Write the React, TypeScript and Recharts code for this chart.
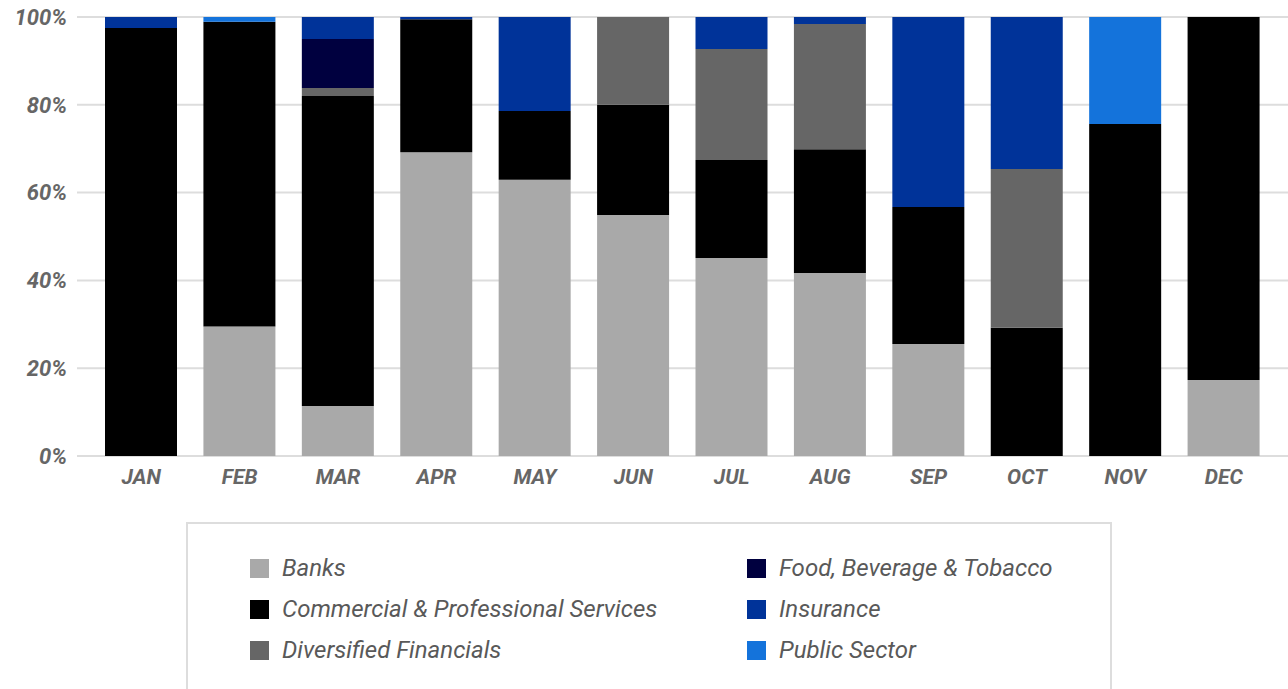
import React from 'react';
import { BarChart, Bar, XAxis, YAxis, CartesianGrid, Legend } from 'recharts';

const months = ['JAN', 'FEB', 'MAR', 'APR', 'MAY', 'JUN', 'JUL', 'AUG', 'SEP', 'OCT', 'NOV', 'DEC'];
const banks = [0, 29.5, 11.4, 69.2, 62.9, 54.9, 45.1, 41.7, 25.5, 0, 0, 17.3];
const commercial = [97.5, 69.4, 70.6, 30.3, 15.7, 25.1, 22.3, 28.2, 31.2, 29.2, 75.6, 82.7];
const diversified = [0, 0, 1.8, 0, 0, 20.0, 25.3, 28.5, 0, 36.2, 0, 0];
const food = [0, 0, 11.2, 0, 0, 0, 0, 0, 0, 0, 0, 0];
const insurance = [2.5, 0, 5.0, 0.5, 21.4, 0, 7.3, 1.6, 43.3, 34.6, 0, 0];
const publicSector = [0, 1.1, 0, 0, 0, 0, 0, 0, 0, 0, 24.4, 0];
const yTicks = [0, 0.2, 0.4, 0.6, 0.8, 1];

const seriesNames = [
  'Banks',
  'Commercial & Professional Services',
  'Diversified Financials',
  'Food, Beverage & Tobacco',
  'Insurance',
  'Public Sector',
];
const seriesKeys = ['banks', 'commercial', 'diversified', 'food', 'insurance', 'publicSector'];
const seriesColors = ['#a9a9a9', '#000000', '#666666', '#00003f', '#003399', '#1473db'];

const data = months.map((m, i) => ({
  month: m,
  banks: banks[i],
  commercial: commercial[i],
  diversified: diversified[i],
  food: food[i],
  insurance: insurance[i],
  publicSector: publicSector[i],
}));

const xTickStyle = {
  fill: '#666666',
  fontSize: 21,
  fontWeight: 700,
  fontStyle: 'italic',
  fontFamily: 'Roboto',
};

const yTickStyle = {
  fill: '#666666',
  fontSize: 22,
  fontWeight: 700,
  fontStyle: 'italic',
  fontFamily: 'Roboto',
};

const LegendBox = () => {
  const cols = [
    [0, 1, 2],
    [3, 4, 5],
  ];
  const colLeft = [62, 559];
  const rowTop = [33, 74, 115];
  return (
    <div
      style={{
        position: 'relative',
        width: 926,
        height: 200,
        border: '2px solid #dddddd',
        boxSizing: 'border-box',
        background: '#fff',
        fontFamily: 'Roboto',
        fontStyle: 'italic',
        fontSize: 24,
        color: '#595959',
      }}
    >
      {cols.map((col, ci) =>
        col.map((si, ri) => (
          <div
            key={si}
            style={{
              position: 'absolute',
              left: colLeft[ci],
              top: rowTop[ri],
              height: 22,
              display: 'flex',
              alignItems: 'center',
              whiteSpace: 'nowrap',
            }}
          >
            <span
              style={{
                display: 'inline-block',
                width: 19,
                height: 19,
                background: seriesColors[si],
                marginRight: 13,
              }}
            />
            <span style={{ lineHeight: '22px' }}>{seriesNames[si]}</span>
          </div>
        ))
      )}
    </div>
  );
};

export default function App() {
  return (
    <div style={{ position: 'absolute', left: 0, top: 0, width: 1288, height: 689, overflow: 'hidden', background: '#fff' }}>
      <BarChart
        width={1288}
        height={689}
        data={data}
        stackOffset="expand"
        margin={{ top: 17, right: 0, bottom: 193, left: 0 }}
        barSize={72}
      >
        <CartesianGrid vertical={false} stroke="#dddddd" strokeWidth={2} />
        <XAxis
          dataKey="month"
          axisLine={false}
          tickLine={false}
          height={40}
          tickSize={6}
          tickMargin={7}
          padding={{ left: 15, right: 15 }}
          tick={xTickStyle}
          interval={0}
        />
        <YAxis
          width={77}
          axisLine={false}
          tickLine={false}
          tickSize={6}
          tickMargin={4}
          domain={[0, 1]}
          ticks={yTicks}
          tickFormatter={(v: number) => `${Math.round(v * 100)}%`}
          tick={yTickStyle}
        />
        <Legend
          layout="horizontal"
          verticalAlign="middle"
          align="center"
          wrapperStyle={{ left: 186, top: 522, width: 926, height: 200 }}
          content={() => <LegendBox />}
        />
        {seriesKeys.map((k, i) => (
          <Bar
            key={k}
            dataKey={k}
            name={seriesNames[i]}
            stackId="a"
            fill={seriesColors[i]}
            isAnimationActive={false}
          />
        ))}
      </BarChart>
    </div>
  );
}
